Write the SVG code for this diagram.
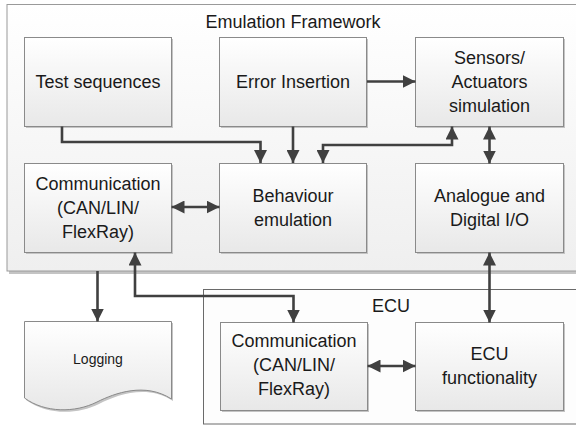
<svg xmlns="http://www.w3.org/2000/svg" width="576" height="425" viewBox="0 0 576 425">
<defs>
<linearGradient id="gNode" x1="0" y1="0" x2="0" y2="1"><stop offset="0" stop-color="#ffffff"/><stop offset="1" stop-color="#e8e8e8"/></linearGradient>
<linearGradient id="gFrame" x1="0" y1="0" x2="0" y2="1"><stop offset="0" stop-color="#ffffff"/><stop offset="1" stop-color="#efefef"/></linearGradient>
<marker id="ah" viewBox="0 0 13 13" refX="13" refY="6.5" markerWidth="13" markerHeight="13" markerUnits="userSpaceOnUse" orient="auto-start-reverse"><path d="M0,0 L13,6.5 L0,13 Z" fill="#404040"/></marker>
</defs>
<style>
.frame{fill:url(#gFrame);stroke:#9a9a9a;stroke-width:1}
.ecu{fill:#fdfdfd;stroke:#6a6a6a;stroke-width:1}
.shadow{fill:#c4c4c4}
.node{fill:url(#gNode);stroke:#8a8a8a;stroke-width:1}
text{font-family:"Liberation Sans",Arial,sans-serif;font-size:18px;fill:#1a1a1a;text-anchor:middle}
.small{font-size:14px}
.c{fill:none;stroke:#404040;stroke-width:2.6}
</style>
<g id="emulation-framework">
<rect x="9" y="7" width="580" height="267" class="shadow"/>
<rect x="7" y="4.5" width="580" height="266.5" class="frame"/>
<text x="293" y="28">Emulation Framework</text>
</g>
<g id="ecu-frame">
<rect x="203.5" y="289.5" width="380" height="134.5" class="ecu"/>
<text x="391" y="312">ECU</text>
</g>
<g id="test-sequences">
<rect x="26" y="39" width="147" height="89" class="shadow"/>
<rect x="24.5" y="37.5" width="147" height="89" class="node"/>
<text x="98" y="88">Test sequences</text>
</g>
<g id="error-insertion">
<rect x="221" y="39" width="147" height="89" class="shadow"/>
<rect x="219.5" y="37.5" width="147" height="89" class="node"/>
<text x="293" y="88">Error Insertion</text>
</g>
<g id="sensors-actuators">
<rect x="417" y="39" width="148" height="89" class="shadow"/>
<rect x="415.5" y="37.5" width="148" height="89" class="node"/>
<text x="489.5" y="64">Sensors/</text>
<text x="489.5" y="88">Actuators</text>
<text x="489.5" y="112">simulation</text>
</g>
<g id="communication">
<rect x="26" y="165" width="147" height="89" class="shadow"/>
<rect x="24.5" y="163.5" width="147" height="89" class="node"/>
<text x="98" y="190">Communication</text>
<text x="98" y="214">(CAN/LIN/</text>
<text x="98" y="238">FlexRay)</text>
</g>
<g id="behaviour-emulation">
<rect x="221" y="165" width="147" height="89" class="shadow"/>
<rect x="219.5" y="163.5" width="147" height="89" class="node"/>
<text x="293" y="202">Behaviour</text>
<text x="293" y="226">emulation</text>
</g>
<g id="analogue-digital">
<rect x="417" y="165" width="148" height="89" class="shadow"/>
<rect x="415.5" y="163.5" width="148" height="89" class="node"/>
<text x="489.5" y="202">Analogue and</text>
<text x="489.5" y="226">Digital I/O</text>
</g>
<g id="logging">
<path d="M26,323 H173 V401 C147,384 117,395 99,404 C77,415 47,415 26,400 Z" class="shadow"/>
<path d="M24.5,321.5 H171.5 V399 C145,382 115,393 97,402 C75,413 45,413 24.5,398 Z" class="node"/>
<text x="98" y="364" class="small">Logging</text>
</g>
<g id="ecu-communication">
<rect x="222" y="324" width="147" height="88" class="shadow"/>
<rect x="220.5" y="322.5" width="147" height="88" class="node"/>
<text x="294" y="347">Communication</text>
<text x="294" y="371">(CAN/LIN/</text>
<text x="294" y="395">FlexRay)</text>
</g>
<g id="ecu-functionality">
<rect x="417" y="324" width="148" height="88" class="shadow"/>
<rect x="415.5" y="322.5" width="148" height="88" class="node"/>
<text x="489.5" y="360">ECU</text>
<text x="489.5" y="384">functionality</text>
</g>
<g id="connectors">
<path class="c" d="M62,126.5 V142 H260.5 V163" marker-end="url(#ah)"/>
<path class="c" d="M293,126.5 V163" marker-end="url(#ah)"/>
<path class="c" d="M323,163 V145 H452 V126.5" marker-start="url(#ah)" marker-end="url(#ah)"/>
<path class="c" d="M489.5,126.5 V163.5" marker-start="url(#ah)" marker-end="url(#ah)"/>
<path class="c" d="M367,81.5 H415.5" marker-end="url(#ah)"/>
<path class="c" d="M171.5,207 H219.5" marker-start="url(#ah)" marker-end="url(#ah)"/>
<path class="c" d="M489.5,252.5 V322.5" marker-start="url(#ah)" marker-end="url(#ah)"/>
<path class="c" d="M135,252.5 V296 H293.5 V322.5" marker-start="url(#ah)" marker-end="url(#ah)"/>
<path class="c" d="M97.5,271 V321.5" marker-end="url(#ah)"/>
<path class="c" d="M367.5,366 H415.5" marker-start="url(#ah)" marker-end="url(#ah)"/>
</g>
</svg>
